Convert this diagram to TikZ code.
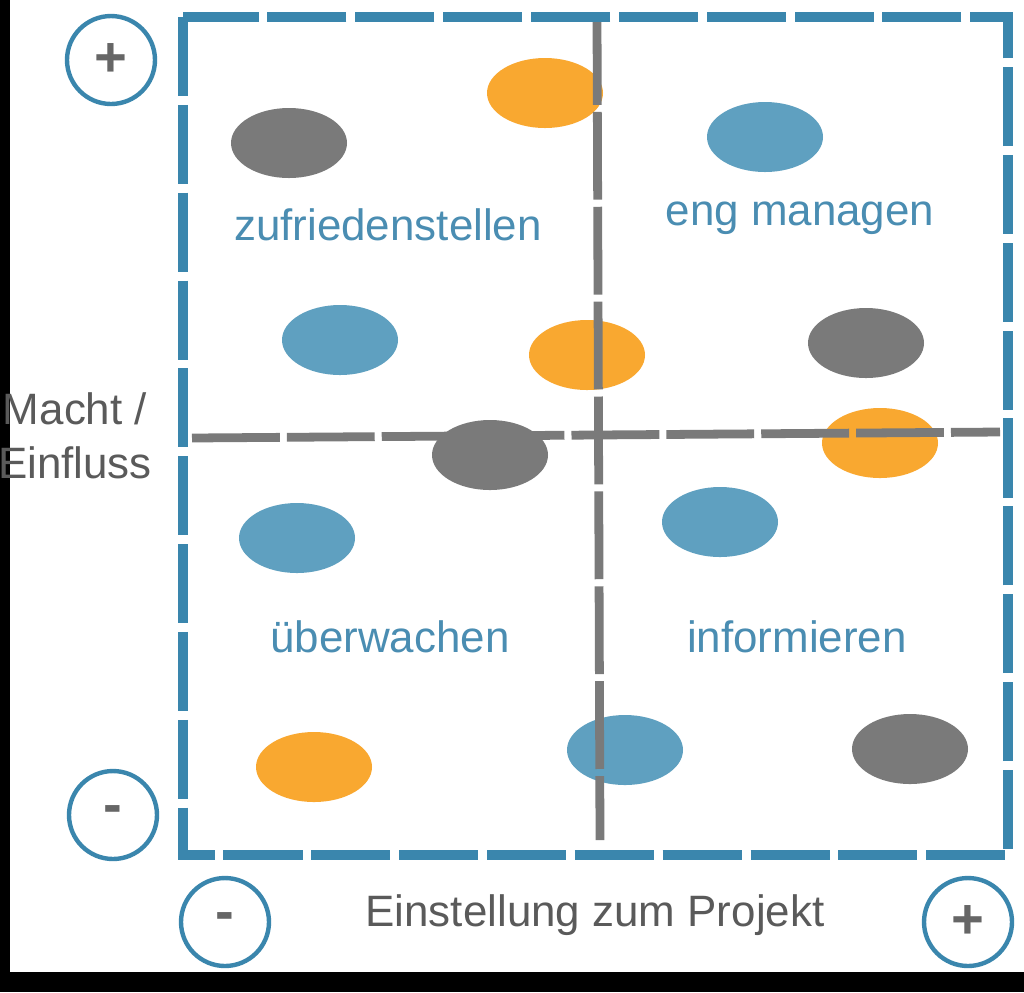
\documentclass[tikz,border=0pt]{standalone}
\usepackage{fontspec}
\setmainfont{Liberation Sans}
\begin{document}
\begin{tikzpicture}[x=0.02cm,y=-0.02cm,
  lbl/.style={text=labblue,font=\fontsize{25}{29}\selectfont},
  sign/.style={circle,draw=frameblue,line width=2.5pt,minimum size=1.76cm,text=signgray,font=\fontsize{32}{32}\selectfont\bfseries},
  gtxt/.style={text=txtgray,font=\fontsize{25}{31}\selectfont}]
\definecolor{frameblue}{HTML}{3A86AD}
\definecolor{labblue}{HTML}{4A8DB2}
\definecolor{bblue}{HTML}{5FA0C0}
\definecolor{borange}{HTML}{F9A830}
\definecolor{bgray}{HTML}{7A7A7A}
\definecolor{signgray}{HTML}{666666}
\definecolor{txtgray}{HTML}{5A5A5A}
\fill[black] (0,0) rectangle (1024,992);
\fill[white] (10,0) rectangle (1024,972);
\useasboundingbox (0,0) rectangle (1024,992);
\foreach \x/\y/\c in {289/143/bgray,545/93/borange,765/137/bblue,340/340/bblue,587/355/borange,866/343/bgray,490/455/bgray,880/443/borange,297/538/bblue,720/522/bblue,314/767/borange,625/750/bblue,910/749/bgray}
  \fill[\c] (\x,\y) ellipse [x radius=58, y radius=35];
\coordinate (vt) at (597,17); \coordinate (vb) at (600,840);
\coordinate (hl) at (192,438); \coordinate (hr) at (1000,432);
\draw[bgray,line width=5pt,dash pattern=on 50pt off 4pt] (vt) -- (vb);
\draw[bgray,line width=5pt,dash pattern=on 50pt off 4pt] (hl) -- (hr);
\draw[frameblue,line width=6pt,dash pattern=on 45pt off 5pt] (183,17) rectangle (1008,855);
\node[lbl] (q1) at (388,225) {zufriedenstellen};
\node[lbl] (q2) at (800,218) {eng managen};
\node[lbl] (q3) at (390,637) {überwachen};
\node[lbl] (q4) at (797,637) {informieren};
\node[sign] (yp) at (111,60) {+};
\node[sign] (ym) at (113,815) {-};
\node[sign] (xm) at (225,922) {-};
\node[sign] (xp) at (968,922) {+};
\node[gtxt,align=center] (ylab) at (75,436) {Macht /\\Einfluss};
\node[gtxt] (xlab) at (595,915) {Einstellung zum Projekt};
\end{tikzpicture}
\end{document}
